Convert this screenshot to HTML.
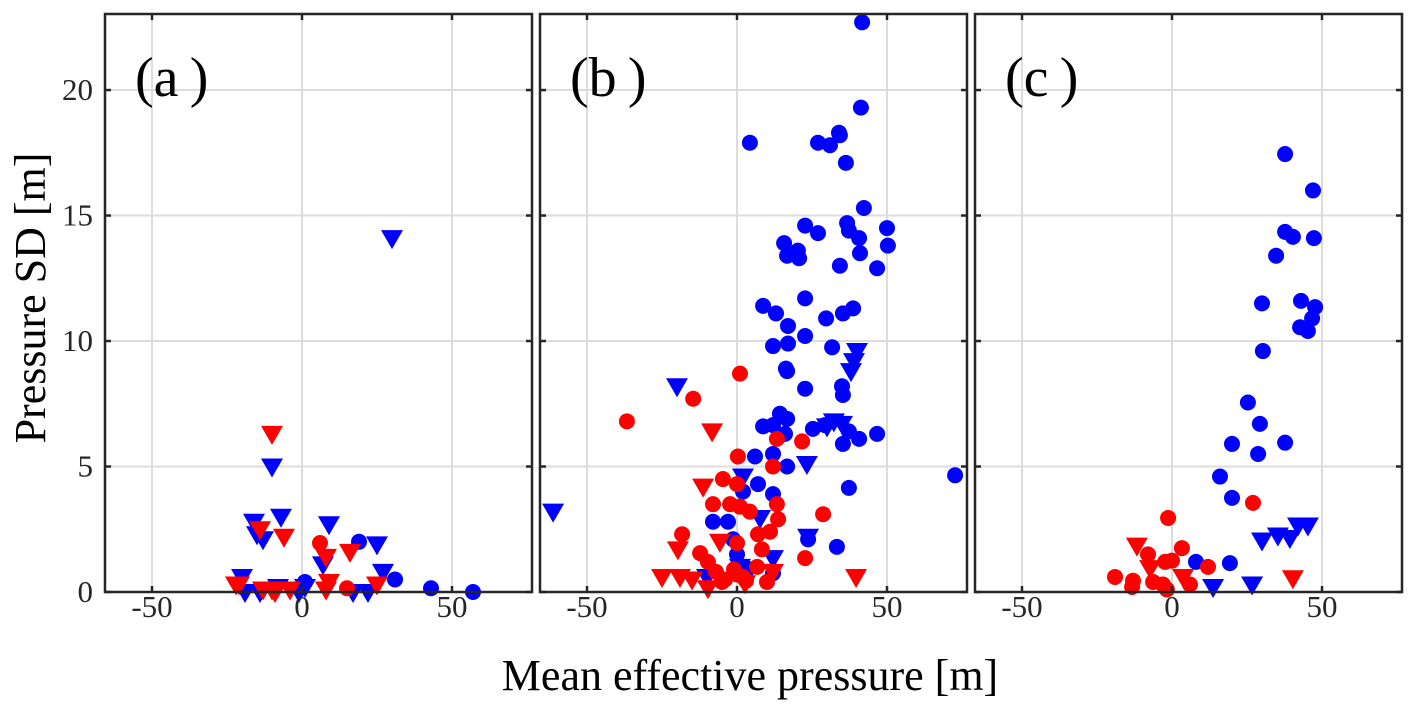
<!DOCTYPE html>
<html><head><meta charset="utf-8"><style>
html,body{margin:0;padding:0;background:#fff;}
svg{display:block;font-family:"Liberation Serif",serif;}
</style></head><body>
<svg id="chart" width="1414" height="710" viewBox="0 0 1414 710"></svg>
<script>
const panelNames = ["a","b","c"];
const xTicks = [-50,0,50];
const yTicks = [0,5,10,15,20];
// Panel a
const aRedTriX = [-10,-14,-6,8,16,-22,-21,-13,-10,-9,-4,9,25,8];
const aRedTriY = [6.3,2.5,2.2,1.4,1.6,0.3,0.3,0.1,0.1,0,0.1,0.4,0.3,0.1];
const aRedCirX = [6,15];
const aRedCirY = [1.95,0.15];
const aBlueTriX = [-10,-16,-7,-15,-13,9,25,7,27,-20,-19,-14,-8,-1,17,22,1,30];
const aBlueTriY = [5.0,2.8,3.0,2.3,2.1,2.7,1.9,1.1,0.8,0.6,0,0,0.2,0,0,0,0.2,14.1];
const aBlueCirX = [19,31,43,57,1];
const aBlueCirY = [2.0,0.5,0.15,0,0.4];
// Panel b
const bRedTriX = [-8.3,-11.3,-19.7,-5.7,-25,-19,-15,-9.7,12,2.7,39.7];
const bRedTriY = [6.4,4.2,1.7,2.0,0.6,0.6,0.5,0.15,0.8,0.35,0.6];
const bRedCirX = [1,-14.6,-36.7,13.3,0.3,12,21.7,-4.7,0,-8,-2.3,1,4.3,13.3,13.7,28.7,-18.3,7,11,0,-12.3,-9.7,8.3,22.7,-7,-4,-1,2,-5,0,3,6.7,10];
const bRedCirY = [8.7,7.7,6.8,6.1,5.4,5.0,6.0,4.5,4.3,3.5,3.5,3.4,3.2,3.5,2.9,3.1,2.3,2.3,2.4,1.95,1.55,1.2,1.7,1.35,0.8,0.5,0.9,0.6,0.4,0.7,0.45,1.0,0.4];
const bBlueTriX = [-20,-61.3,2,7.7,23.3,23.7,12,-10,1,4.3,40,39,38,32.3,35,30];
const bBlueTriY = [8.2,3.2,4.6,2.95,5.1,2.2,1.35,0.6,1.0,0.9,9.6,9.2,8.8,6.8,6.7,6.6];
const bBlueCirX = [14.3,16.7,8.7,12,16,25.3,29.3,16.7,22.7,6,12,16.7,7,12,2,-8,-3,-1.3,0,23.7,33.3,12,
  41.7,41.3,4.3,27,31,34,34.3,36.3,42.3,22.7,27,36.7,37.3,40.7,41,50,50.3,15.7,20.3,16.7,20.7,34.3,46.7,
  8.7,13,17,22.7,29.7,35.3,38.7,12,17,22.7,31.7,16.3,35.3,35,35.3,37.3,40.7,46.7,37.3,72.7];
const bBlueCirY = [7.1,6.9,6.6,6.65,6.3,6.5,6.65,8.8,8.1,5.4,5.5,5.0,4.3,3.9,4.0,2.8,2.8,2.1,1.5,2.1,1.8,0.75,
  22.7,19.3,17.9,17.9,17.8,18.3,18.2,17.1,15.3,14.6,14.3,14.7,14.4,14.1,13.5,14.5,13.8,13.9,13.6,13.4,13.3,13.0,12.9,
  11.4,11.1,10.6,11.7,10.9,11.1,11.3,9.8,9.9,10.2,9.75,8.9,7.85,8.2,5.9,6.4,6.1,6.3,4.15,4.65];
// Panel c
const cRedTriX = [-11.7,-7.3,3.7,40.3];
const cRedTriY = [1.85,0.95,0.6,0.55];
const cRedCirX = [27,-1.3,3.3,-8,-2.3,0,12,-19,-13,-13.3,-6.3,-3,-1.7,6];
const cRedCirY = [3.55,2.95,1.75,1.5,1.2,1.25,1.0,0.6,0.45,0.2,0.4,0.3,0.1,0.3];
const cBlueTriX = [30,35.3,39.3,42,45.3,13.7,26.7];
const cBlueTriY = [2.05,2.25,2.15,2.65,2.65,0.2,0.3];
const cBlueCirX = [37.7,47,37.7,40.3,47.3,34.7,30,43,47.7,46.7,42.7,45.3,30.3,25.3,29.3,20,28.7,37.7,16,20,19.3,8];
const cBlueCirY = [17.45,16.0,14.35,14.15,14.1,13.4,11.5,11.6,11.35,10.9,10.55,10.4,9.6,7.55,6.7,5.9,5.5,5.95,4.6,3.75,1.15,1.2];

const panelData = [
  {rt:[aRedTriX,aRedTriY], rc:[aRedCirX,aRedCirY], bt:[aBlueTriX,aBlueTriY], bc:[aBlueCirX,aBlueCirY]},
  {rt:[bRedTriX,bRedTriY], rc:[bRedCirX,bRedCirY], bt:[bBlueTriX,bBlueTriY], bc:[bBlueCirX,bBlueCirY]},
  {rt:[cRedTriX,cRedTriY], rc:[cRedCirX,cRedCirY], bt:[cBlueTriX,cBlueTriY], bc:[cBlueCirX,cBlueCirY]}
];

const NS = "http://www.w3.org/2000/svg";
const svg = document.getElementById("chart");
const lefts = [105,540,975];
const W = 427, TOP = 14, BOT = 592;
const XMIN = -65.67, XMAX = 76.67, YMIN = 0, YMAX = 23.03;
function mk(tag, attrs, parent){
  const e = document.createElementNS(NS, tag);
  for (const k in attrs) e.setAttribute(k, attrs[k]);
  (parent||svg).appendChild(e);
  return e;
}
function yS(v){ return BOT - (v - YMIN) / (YMAX - YMIN) * (BOT - TOP); }

panelData.forEach((pd, i) => {
  const L = lefts[i];
  const xS = v => L + (v - XMIN) / (XMAX - XMIN) * W;
  const g = mk("g", {});
  
  
  xTicks.forEach(t => {
    const l = mk("line", {x1:xS(t), x2:xS(t), y1:TOP, y2:BOT, stroke:"#dcdcdc", "stroke-width":2}, g);
    
    
  });
  yTicks.forEach(t => {
    const l = mk("line", {x1:L, x2:L+W, y1:yS(t), y2:yS(t), stroke:"#dcdcdc", "stroke-width":2}, g);
    
    
  });
  const tri = (arr, color, name) => arr[0].forEach((x, k) => {
    const cx = xS(x), cy = yS(arr[1][k]);
    const p = mk("polygon", {points:`${cx-11},${cy-8} ${cx+11},${cy-8} ${cx},${cy+11}`, fill:color}, g);
    
    
  });
  const cir = (arr, color, name) => arr[0].forEach((x, k) => {
    const c = mk("circle", {cx:xS(x), cy:yS(arr[1][k]), r:8, fill:color}, g);
    
    
  });
  cir(pd.bc, "#0000ff", "blue-circle-point");
  tri(pd.bt, "#0000ff", "blue-triangle-point");
  tri(pd.rt, "#ff0000", "red-triangle-point");
  cir(pd.rc, "#ff0000", "red-circle-point");
  const fr = mk("rect", {x:L, y:TOP, width:W, height:BOT-TOP, fill:"none", stroke:"#262626", "stroke-width":2.5}, g);
  
  
  xTicks.forEach(t => {
    mk("line", {x1:xS(t), x2:xS(t), y1:BOT, y2:BOT-6, stroke:"#262626", "stroke-width":2.5}, g);
    mk("line", {x1:xS(t), x2:xS(t), y1:TOP, y2:TOP+6, stroke:"#262626", "stroke-width":2.5}, g);
    const tx = mk("text", {x:xS(t), y:BOT+25, "text-anchor":"middle", "font-size":31, fill:"#262626"}, g);
    tx.textContent = t < 0 ? "-" + Math.abs(t) : String(t);
    
    
  });
  yTicks.forEach(t => {
    mk("line", {x1:L, x2:L+6, y1:yS(t), y2:yS(t), stroke:"#262626", "stroke-width":2.5}, g);
    mk("line", {x1:L+W, x2:L+W-6, y1:yS(t), y2:yS(t), stroke:"#262626", "stroke-width":2.5}, g);
    if (i === 0) {
      const ty = mk("text", {x:L-12, y:yS(t)+10, "text-anchor":"end", "font-size":31, fill:"#262626"}, g);
      ty.textContent = String(t);
      
      
    }
  });
  const pl = mk("text", {x:L+30, y:96, "font-size":56, fill:"#000"}, g);
  pl.textContent = "(" + panelNames[i] + "\u2009)";
  
  
});

const xt = mk("text", {x:750, y:690, "text-anchor":"middle", "font-size":44, fill:"#000"});
xt.textContent = "Mean effective pressure [m]";


const yt = mk("text", {x:0, y:0, "text-anchor":"middle", "font-size":44, fill:"#000", transform:"translate(45,298) rotate(-90)"});
yt.textContent = "Pressure SD [m]";


</script>
</body></html>
